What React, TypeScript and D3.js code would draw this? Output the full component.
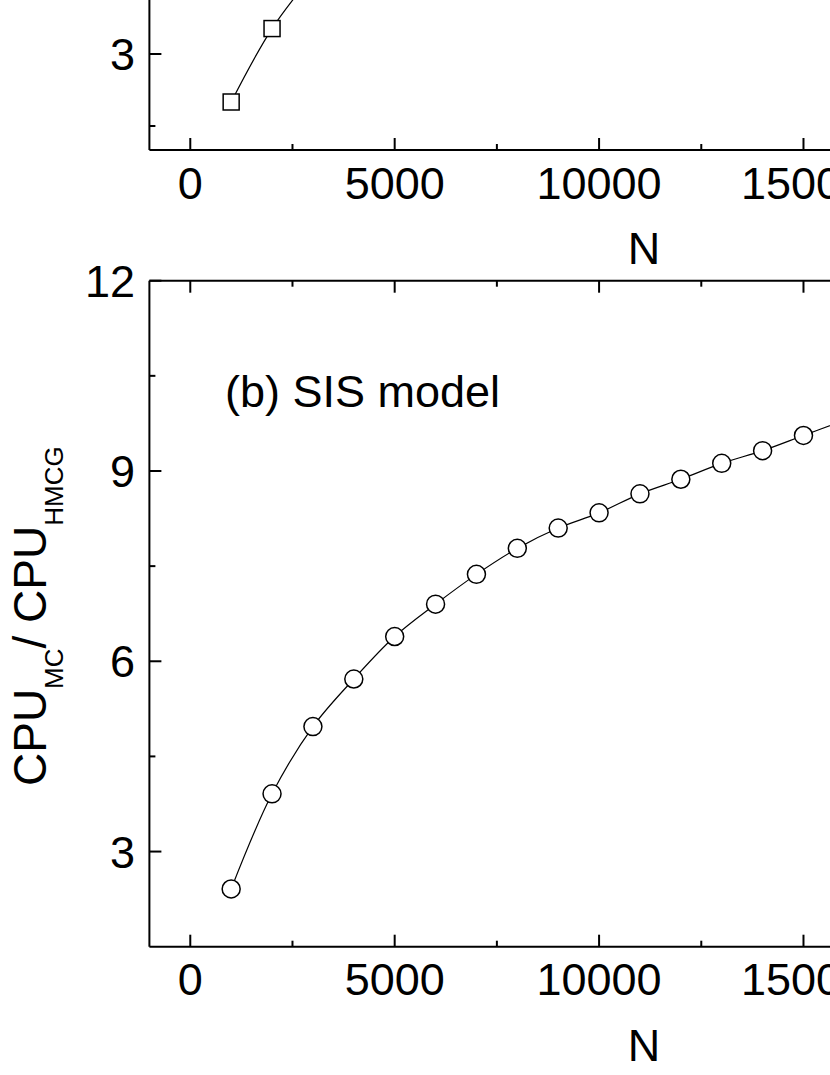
import React from "react";
import * as d3 from "d3";

// ---- data ----
const nTop = [1000, 2000, 3000];
const ratioTop = [2.0, 3.53, 4.65];

const nSIS = [1000, 2000, 3000, 4000, 5000, 6000, 7000, 8000, 9000, 10000, 11000, 12000, 13000, 14000, 15000, 16000];
const ratioSIS = [2.41, 3.91, 4.97, 5.72, 6.39, 6.9, 7.37, 7.78, 8.1, 8.34, 8.64, 8.87, 9.12, 9.32, 9.56, 9.8];

const xMajorTicks = [0, 5000, 10000, 15000, 20000];
const xMinorTicks = [2500, 7500, 12500, 17500, 22500];
const yMajorTicksB = [3, 6, 9, 12];
const yMinorTicksB = [4.5, 7.5, 10.5];
const yMajorTicksTop = [3];
const yMinorTicksTop = [1.5];

const panelLabel = "(b) SIS model";
const xTitle = "N";

const FONT = "Liberation Sans, Arial, Helvetica, sans-serif";

export default function App() {
  const x = d3.scaleLinear().domain([-1000, 23200]).range([149.4, 1138.7]);
  const yB = d3.scaleLinear().domain([1.5, 12]).range([946.7, 280.7]);
  const yT = d3.scaleLinear().domain([1, 12]).range([150, -378]);

  const left = x(-1000);
  const right = x(23200);
  const midX = (left + right) / 2;

  const lineB = d3
    .line<number>()
    .x((_, i) => x(nSIS[i]))
    .y((d) => yB(d))
    .curve(d3.curveCatmullRom.alpha(0.5));
  const lineT = d3
    .line<number>()
    .x((_, i) => x(nTop[i]))
    .y((d) => yT(d))
    .curve(d3.curveCatmullRom.alpha(0.5));

  const MAJ = 12;
  const MIN = 6;
  const AX = 2;

  const xAxis = (yPos: number, dir: number, labels: boolean, key: string) => (
    <g key={key}>
      <line x1={left} x2={right} y1={yPos} y2={yPos} stroke="#000" strokeWidth={AX} />
      {xMajorTicks.map((t) => (
        <line key={"M" + t} x1={x(t)} x2={x(t)} y1={yPos} y2={yPos + dir * MAJ} stroke="#000" strokeWidth={AX} />
      ))}
      {xMinorTicks.map((t) => (
        <line key={"m" + t} x1={x(t)} x2={x(t)} y1={yPos} y2={yPos + dir * MIN} stroke="#000" strokeWidth={AX} />
      ))}
      {labels &&
        xMajorTicks.map((t) => (
          <text key={"l" + t} x={x(t)} y={yPos + 48.5} textAnchor="middle" fontSize={45} fontFamily={FONT}>
            {t}
          </text>
        ))}
      {labels && (
        <text x={midX} y={yPos + 114} textAnchor="middle" fontSize={45} fontFamily={FONT}>
          {xTitle}
        </text>
      )}
    </g>
  );

  const yAxis = (
    scale: d3.ScaleLinear<number, number>,
    y0: number,
    y1: number,
    major: number[],
    minor: number[],
    key: string
  ) => (
    <g key={key}>
      <line x1={left} x2={left} y1={y0} y2={y1} stroke="#000" strokeWidth={AX} />
      {major.map((t) => (
        <g key={"M" + t}>
          <line x1={left} x2={left + MAJ} y1={scale(t)} y2={scale(t)} stroke="#000" strokeWidth={AX} />
          <text x={135} y={scale(t)} dy="0.36em" textAnchor="end" fontSize={45} fontFamily={FONT}>
            {t}
          </text>
        </g>
      ))}
      {minor.map((t) => (
        <line key={"m" + t} x1={left} x2={left + MIN} y1={scale(t)} y2={scale(t)} stroke="#000" strokeWidth={AX} />
      ))}
    </g>
  );

  return (
    <svg
      width={830}
      height={1075}
      style={{ position: "absolute", left: 0, top: 0, background: "#fff" }}
      xmlns="http://www.w3.org/2000/svg"
    >
      <rect x={0} y={0} width={830} height={1075} fill="#fff" />
      {/* top panel (a) */}
      <path d={lineT(ratioTop) || ""} fill="none" stroke="#000" strokeWidth={1.2} />
      {ratioTop.map((v, i) => (
        <rect
          key={"sq" + i}
          x={x(nTop[i]) - 8}
          y={yT(v) - 8}
          width={16}
          height={16}
          fill="#fff"
          stroke="#000"
          strokeWidth={1.5}
        />
      ))}
      {yAxis(yT, 0, 150, yMajorTicksTop, yMinorTicksTop, "yT")}
      {xAxis(150, -1, true, "xT")}

      {/* bottom panel (b) */}
      <path d={lineB(ratioSIS) || ""} fill="none" stroke="#000" strokeWidth={1.2} />
      {ratioSIS.map((v, i) => (
        <circle key={"c" + i} cx={x(nSIS[i])} cy={yB(v)} r={9} fill="#fff" stroke="#000" strokeWidth={1.5} />
      ))}
      {yAxis(yB, 280.7, 946.7, yMajorTicksB, yMinorTicksB, "yB")}
      {xAxis(280.7, 1, false, "xBt")}
      {xAxis(946.7, -1, true, "xB")}

      <text x={225} y={407} fontSize={45} fontFamily={FONT}>
        {panelLabel}
      </text>

      <text transform="translate(46,786) rotate(-90)" fontSize={46} fontFamily={FONT}>
        CPU
        <tspan fontSize={26} dy={17}>MC</tspan>
        <tspan dy={-17}>/ CPU</tspan>
        <tspan fontSize={26} dy={17}>HMCG</tspan>
      </text>
    </svg>
  );
}
